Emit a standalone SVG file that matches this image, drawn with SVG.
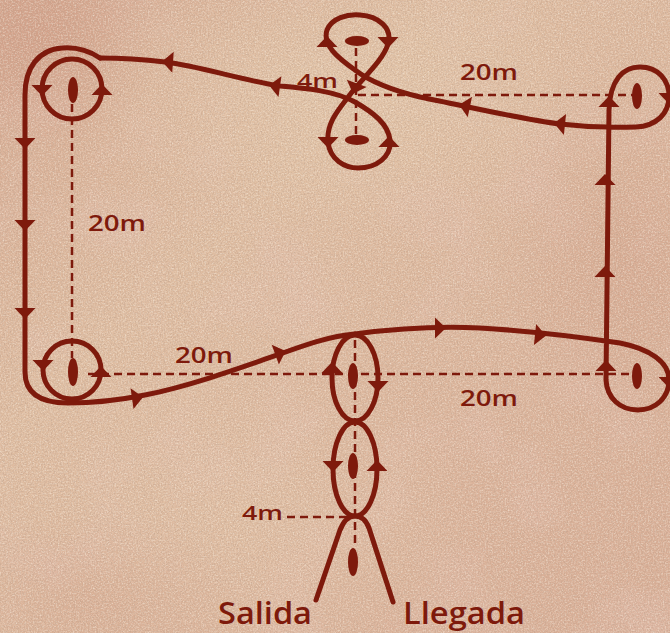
<svg xmlns="http://www.w3.org/2000/svg" xmlns:xlink="http://www.w3.org/1999/xlink" width="670" height="633" viewBox="0 0 670 633">
<defs>
<style>
.route{fill:none;stroke:#7e1a0c;stroke-width:5;stroke-linecap:round;stroke-linejoin:round}
.dash{fill:none;stroke:#7e1a0c;stroke-width:2.5;stroke-dasharray:8 5}
.post{fill:#7e1a0c}
.arrow{fill:#7e1a0c}
.lbl{font-family:"Open Sans","Noto Sans","Liberation Sans",sans-serif;font-weight:600;fill:#7e1a0c}
</style>
<path id="ah" d="M6,0 L-5,-10.5 L-5,10.5 Z"/>
<linearGradient id="bg" x1="0" y1="0" x2="1" y2="1">
<stop offset="0" stop-color="#d5a78f"/>
<stop offset="0.35" stop-color="#dfbda1"/>
<stop offset="0.7" stop-color="#dbb39a"/>
<stop offset="1" stop-color="#d8ad95"/>
</linearGradient>
<radialGradient id="light1" cx="0.5" cy="0.5" r="0.5">
<stop offset="0" stop-color="#e3c6a9" stop-opacity="0.8"/>
<stop offset="1" stop-color="#e3c6a9" stop-opacity="0"/>
</radialGradient>
<radialGradient id="pink1" cx="0.5" cy="0.5" r="0.5">
<stop offset="0" stop-color="#cc937d" stop-opacity="0.45"/>
<stop offset="1" stop-color="#cc937d" stop-opacity="0"/>
</radialGradient>
<filter id="grain" x="0" y="0" width="100%" height="100%">
<feTurbulence type="fractalNoise" baseFrequency="0.7" numOctaves="2" seed="4" result="n"/>
<feColorMatrix in="n" type="matrix" values="0 0 0 0 0.5  0 0 0 0 0.34  0 0 0 0 0.25  1.3 0 0 0 -0.55"/>
</filter>
<filter id="grainlight" x="0" y="0" width="100%" height="100%">
<feTurbulence type="fractalNoise" baseFrequency="0.6" numOctaves="2" seed="11" result="n"/>
<feColorMatrix in="n" type="matrix" values="0 0 0 0 0.95  0 0 0 0 0.87  0 0 0 0 0.76  1.2 0 0 0 -0.5"/>
</filter>
<filter id="blot" x="0" y="0" width="100%" height="100%">
<feTurbulence type="fractalNoise" baseFrequency="0.012" numOctaves="3" seed="9" result="b"/>
<feColorMatrix in="b" type="matrix" values="0 0 0 0 0.8  0 0 0 0 0.55  0 0 0 0 0.47  1.0 0 0 0 -0.5"/>
</filter>
</defs>

<g id="background">
<rect width="670" height="633" fill="url(#bg)"/>
<rect width="670" height="633" filter="url(#blot)"/>
<ellipse cx="330" cy="90" rx="260" ry="140" fill="url(#light1)"/>
<ellipse cx="250" cy="520" rx="220" ry="150" fill="url(#light1)" opacity="0.6"/>
<ellipse cx="40" cy="40" rx="120" ry="110" fill="url(#pink1)"/>
<ellipse cx="620" cy="250" rx="130" ry="200" fill="url(#pink1)" opacity="0.6"/>
<ellipse cx="90" cy="600" rx="160" ry="90" fill="url(#pink1)" opacity="0.5"/>
<rect width="670" height="633" filter="url(#grainlight)"/>
<rect width="670" height="633" filter="url(#grain)"/>
</g>

<g id="connectors">
<g id="measures">
<line class="dash" x1="72" y1="104" x2="72" y2="358"/>
<line class="dash" x1="358" y1="95" x2="633" y2="95"/>
<line class="dash" x1="356" y1="48" x2="356" y2="134"/>
<line class="dash" x1="88" y1="374" x2="633" y2="374"/>
<line class="dash" x1="355" y1="340" x2="355" y2="548"/>
<line class="dash" x1="287" y1="517" x2="352" y2="517"/>
</g>
<g id="route">
<path class="route" d="M355,334 C400,328 440,326 480,328 C530,331 580,337 620,343 C650,349 669,362 669,380 C669,398 655,410 638,410 C620,410 607,398 606,380 L609,110 C610,80 623,67 640,67 C658,67 669,80 669,96 C669,114 656,126 636,127 C610,128 585,127 560,124 C520,119 470,107 420,97 C395,91 372,83 355,70 C338,58 322,45 327,30 C332,18 347,14 360,15 C378,16 393,28 388,44 C383,60 365,76 352,92 C340,108 326,122 328,142 C330,160 345,168 358,168 C376,168 392,157 390,140 C388,124 374,113 355,102 C335,91 305,88 280,86 C240,80 200,66 165,62 C140,59 115,58 100,58"/>
<circle class="route" cx="72" cy="89" r="30"/>
<path class="route" d="M100,58 C88,50 75,47 62,48 C38,50 25,68 25,95 L25,372 C25,393 40,403 68,403 C95,403 120,400 145,395 C190,386 240,368 280,354 C305,345 330,336 355,334"/>
<circle class="route" cx="72" cy="370" r="29"/>
<ellipse class="route" cx="355" cy="378" rx="23" ry="43"/>
<ellipse class="route" cx="355" cy="469" rx="22" ry="47"/>
<path class="route" d="M316,600 L340,530 C344,520 349,516 355,516 C361,516 366,520 369,528 L393,602"/>
</g>
<g id="arrows" class="arrow">
<use href="#ah" transform="translate(25,143) rotate(90)"/>
<use href="#ah" transform="translate(25,225) rotate(90)"/>
<use href="#ah" transform="translate(25,313) rotate(90)"/>
<use href="#ah" transform="translate(42,90) rotate(90)"/>
<use href="#ah" transform="translate(102,90) rotate(-90)"/>
<use href="#ah" transform="translate(43,365) rotate(90)"/>
<use href="#ah" transform="translate(101,372) rotate(-90)"/>
<use href="#ah" transform="translate(137,398) rotate(-8)"/>
<use href="#ah" transform="translate(280,353) rotate(-20)"/>
<use href="#ah" transform="translate(440,328) rotate(0)"/>
<use href="#ah" transform="translate(540,335) rotate(6)"/>
<use href="#ah" transform="translate(606,366) rotate(-90)"/>
<use href="#ah" transform="translate(605,272) rotate(-90)"/>
<use href="#ah" transform="translate(605,180) rotate(-90)"/>
<use href="#ah" transform="translate(609,102) rotate(-90)"/>
<use href="#ah" transform="translate(669,382) rotate(90)"/>
<use href="#ah" transform="translate(669,98) rotate(90)"/>
<use href="#ah" transform="translate(560,124) rotate(186)"/>
<use href="#ah" transform="translate(465,106) rotate(192)"/>
<use href="#ah" transform="translate(275,86) rotate(188)"/>
<use href="#ah" transform="translate(168,62) rotate(184)"/>
<use href="#ah" transform="translate(327,42) rotate(-90)"/>
<use href="#ah" transform="translate(388,42) rotate(90)"/>
<use href="#ah" transform="translate(355,88) rotate(110)"/>
<use href="#ah" transform="translate(328,142) rotate(90)"/>
<use href="#ah" transform="translate(389,142) rotate(-90)"/>
<use href="#ah" transform="translate(332,368) rotate(-90)"/>
<use href="#ah" transform="translate(378,386) rotate(90)"/>
<use href="#ah" transform="translate(333,466) rotate(90)"/>
<use href="#ah" transform="translate(377,466) rotate(-90)"/>
</g>
</g>

<g id="post-top-left"><ellipse class="post" cx="73" cy="90" rx="5" ry="13"/></g>
<g id="post-bottom-left"><ellipse class="post" cx="73" cy="372" rx="5" ry="14"/></g>
<g id="post-top-right"><ellipse class="post" cx="637" cy="96" rx="5" ry="13"/></g>
<g id="post-bottom-right"><ellipse class="post" cx="637" cy="376" rx="5" ry="13"/></g>
<g id="post-eight-top-a"><ellipse class="post" cx="357" cy="41" rx="12" ry="5"/></g>
<g id="post-eight-top-b"><ellipse class="post" cx="357" cy="140" rx="12" ry="5"/></g>
<g id="post-eight-bottom-a"><ellipse class="post" cx="353" cy="376" rx="5" ry="13"/></g>
<g id="post-eight-bottom-b"><ellipse class="post" cx="353" cy="466" rx="5" ry="13"/></g>
<g id="post-start"><ellipse class="post" cx="353" cy="562" rx="5" ry="14"/></g>

<g id="labels">
<text class="lbl" x="297" y="88" font-size="19" textLength="41" lengthAdjust="spacingAndGlyphs">4m</text>
<text class="lbl" x="460" y="80" font-size="21" textLength="58" lengthAdjust="spacingAndGlyphs">20m</text>
<text class="lbl" x="88" y="231" font-size="21" textLength="58" lengthAdjust="spacingAndGlyphs">20m</text>
<text class="lbl" x="175" y="363" font-size="21" textLength="58" lengthAdjust="spacingAndGlyphs">20m</text>
<text class="lbl" x="460" y="406" font-size="21" textLength="58" lengthAdjust="spacingAndGlyphs">20m</text>
<text class="lbl" x="242" y="520" font-size="19" textLength="41" lengthAdjust="spacingAndGlyphs">4m</text>
<text class="lbl" x="218" y="624" font-size="30" textLength="94" lengthAdjust="spacingAndGlyphs">Salida</text>
<text class="lbl" x="403" y="624" font-size="30" textLength="122" lengthAdjust="spacingAndGlyphs">Llegada</text>
</g>
</svg>
